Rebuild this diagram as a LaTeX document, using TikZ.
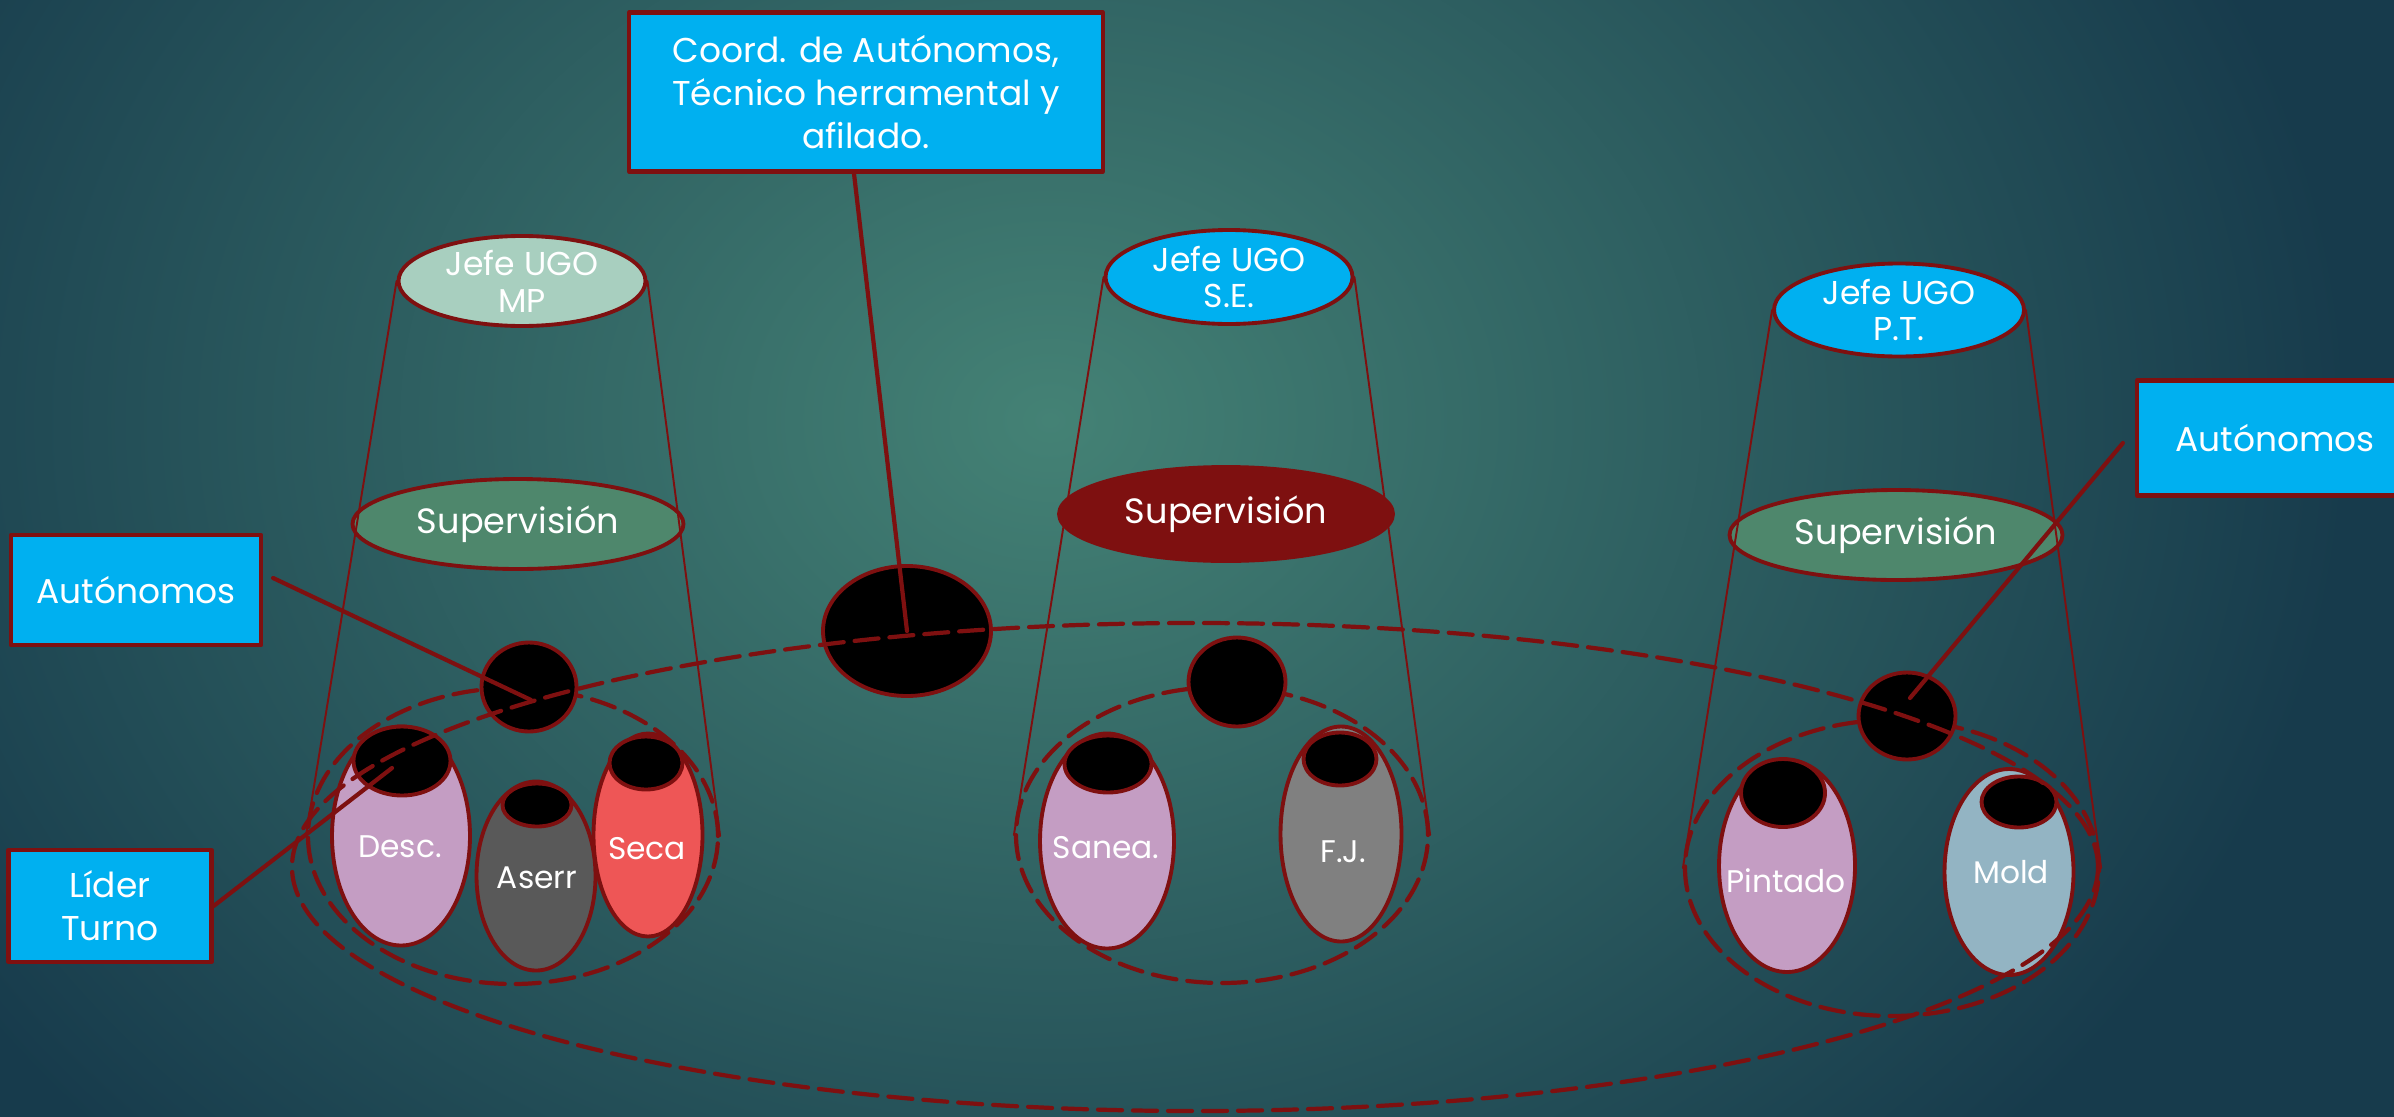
\documentclass[tikz,border=0pt]{standalone}
\usepackage{fontspec}
\setmainfont{Poppins}
\usetikzlibrary{shapes.geometric}
\definecolor{rojo}{HTML}{7E1010}
\definecolor{celeste}{HTML}{00B0F0}
\definecolor{verdeC}{HTML}{A8CFBF}
\definecolor{verdeS}{HTML}{4E876C}
\definecolor{lila}{HTML}{C49DC3}
\definecolor{grisO}{HTML}{595959}
\definecolor{grisM}{HTML}{808080}
\definecolor{salmon}{HTML}{EE5656}
\definecolor{azulG}{HTML}{93B4C3}
\definecolor{fondoA}{HTML}{448275}
\definecolor{fondoB}{HTML}{173B4C}
\begin{document}
\begin{tikzpicture}[x=0.1mm, y=-0.1mm, line join=round, line cap=round,
	tam/.style 2 args={minimum width=#1*0.1mm, minimum height=#2*0.1mm},
	caja/.style={draw=rojo, line width=1.2pt, fill=celeste, text=white, align=center, inner sep=0pt, font=\fontsize{9.8}{12.2}\selectfont},
	elip/.style={ellipse, draw=rojo, line width=1.1pt, inner sep=0pt},
	boca/.style={elip, fill=black},
	rayas/.style={draw=rojo, line width=1.2pt, dash pattern=on 2.4mm off 1.1mm},
	grupo/.style={ellipse, rayas, inner sep=0pt},
	rotulo/.style={text=white, align=center, inner sep=0pt, font=\fontsize{8.9}{10.5}\selectfont},
	jefe/.style={rotulo, font=\fontsize{9.4}{10.5}\selectfont},
	sup/.style={rotulo, font=\fontsize{10}{12}\selectfont},
	cono/.style={draw=rojo, line width=0.55pt},
	enlace/.style={draw=rojo, line width=1.2pt}]
	\useasboundingbox (0,0) rectangle (2394,1116);
	\clip (-10,-10) rectangle (2404,1126);
	% fondo
	\fill[fondoB] (-10,-10) rectangle (2404,1126);
	\shade[inner color=fondoA, outer color=fondoB] (1050,420) ellipse [x radius=1300, y radius=1050];
	% jefes y supervision
	\node[elip, fill=verdeC, tam={247}{90}] (jefeMP) at (522,281) {};
	\node[elip, fill=celeste, tam={247}{94}] (jefeSE) at (1229,277) {};
	\node[elip, fill=celeste, tam={250}{93}] (jefePT) at (1899,310) {};
	\node[elip, fill=verdeS, tam={331}{90}] (supMP) at (518,524) {};
	\node[elip, fill=rojo, tam={334}{94}] (supSE) at (1226,514) {};
	\node[elip, fill=verdeS, tam={333}{90}] (supPT) at (1896,535) {};
	\node[jefe] (tJefeMP) at (jefeMP) {Jefe UGO\\MP};
	\node[jefe] (tJefeSE) at (jefeSE) {Jefe UGO\\S.E.};
	\node[jefe] (tJefePT) at (jefePT) {Jefe UGO\\P.T.};
	\foreach \s in {supMP,supSE,supPT}
		\node[sup] (t\s) at (\s) {Supervisión};
	% secciones
	\node[elip, fill=lila, tam={138}{219}] (desc) at (401,836) {};
	\node[boca, tam={97}{69}] (descB) at (402,761) {};
	\node[elip, fill=grisO, tam={119}{189}] (aserr) at (536,876) {};
	\node[boca, tam={69}{43}] (aserrB) at (537,805) {};
	\node[elip, fill=salmon, tam={109}{203}] (seca) at (648,835) {};
	\node[boca, tam={73}{53}] (secaB) at (646,763) {};
	\node[elip, fill=lila, tam={134}{215}] (sanea) at (1107,841) {};
	\node[boca, tam={87}{57}] (saneaB) at (1108,764) {};
	\node[elip, fill=grisM, tam={121}{215}] (fj) at (1341,834) {};
	\node[boca, tam={73}{53}] (fjB) at (1340,759) {};
	\node[elip, fill=lila, tam={136}{212}] (pint) at (1787,866) {};
	\node[boca, tam={84}{68}] (pintB) at (1783,793) {};
	\node[elip, fill=azulG, tam={129}{206}] (mold) at (2009,872) {};
	\node[boca, tam={75}{51}] (moldB) at (2019,802) {};
	\node[rotulo] (tDesc) at (400,847) {Desc.};
	\node[rotulo] (tAserr) at (537,878) {Aserr};
	\node[rotulo] (tSeca) at (647,849) {Seca};
	\node[rotulo] (tSanea) at (1106,848) {Sanea.};
	\node[rotulo] (tFj) at (1343,852) {F.J.};
	\node[rotulo] (tPint) at (1786,881) {Pintado};
	\node[rotulo] (tMold) at (2011,872) {Mold};
	% grupos
	\node[grupo, tam={410}{296}] (grpMP) at (513,836) {};
	\node[grupo, tam={412}{296}] (grpSE) at (1222,835) {};
	\node[grupo, tam={414}{296}] (grpPT) at (1892,868) {};
	% puntos negros
	\foreach \n/\px/\py/\w/\h in {dotMP/529/687/95/89, dotSE/1237/682/97/89, dotPT/1907/716/97/87, dotCo/907/631/168/130}
		\node[boca, tam={\w}{\h}] (\n) at (\px,\py) {};
	% conos
	\foreach \j/\g in {jefeMP/grpMP, jefeSE/grpSE, jefePT/grpPT}{
		\draw[cono] (\j.west) -- (\g.west);
		\draw[cono] (\j.east) -- (\g.east);}
	\draw[rayas] (1195,867) ellipse [x radius=903, y radius=244];
	% cajas
	\node[caja, tam={474}{159}] (cajaCo) at (866,92) {Coord. de Autónomos,\\Técnico herramental y\\afilado.};
	\node[caja, tam={250}{110}] (cajaAutMP) at (136,590) {Autónomos};
	\node[caja, tam={203}{112}] (cajaLider) at (110,906) {Líder\\Turno};
	\node[caja, tam={276}{115}] (cajaAutPT) at (2275,438) {Autónomos};
	\draw[enlace] ([xshift=-1.2mm]cajaCo.south) -- (dotCo.center);
	\draw[enlace] ([shift={(10,-12)}]cajaAutMP.east) -- ([shift={(2,13)}]dotMP.center);
	\draw[enlace] (cajaLider.east) -- ([shift={(-10,7)}]descB.center);
	\draw[enlace] ([shift={(-12,5)}]cajaAutPT.west) -- ([shift={(3,-18)}]dotPT.center);
\end{tikzpicture}
\end{document}
